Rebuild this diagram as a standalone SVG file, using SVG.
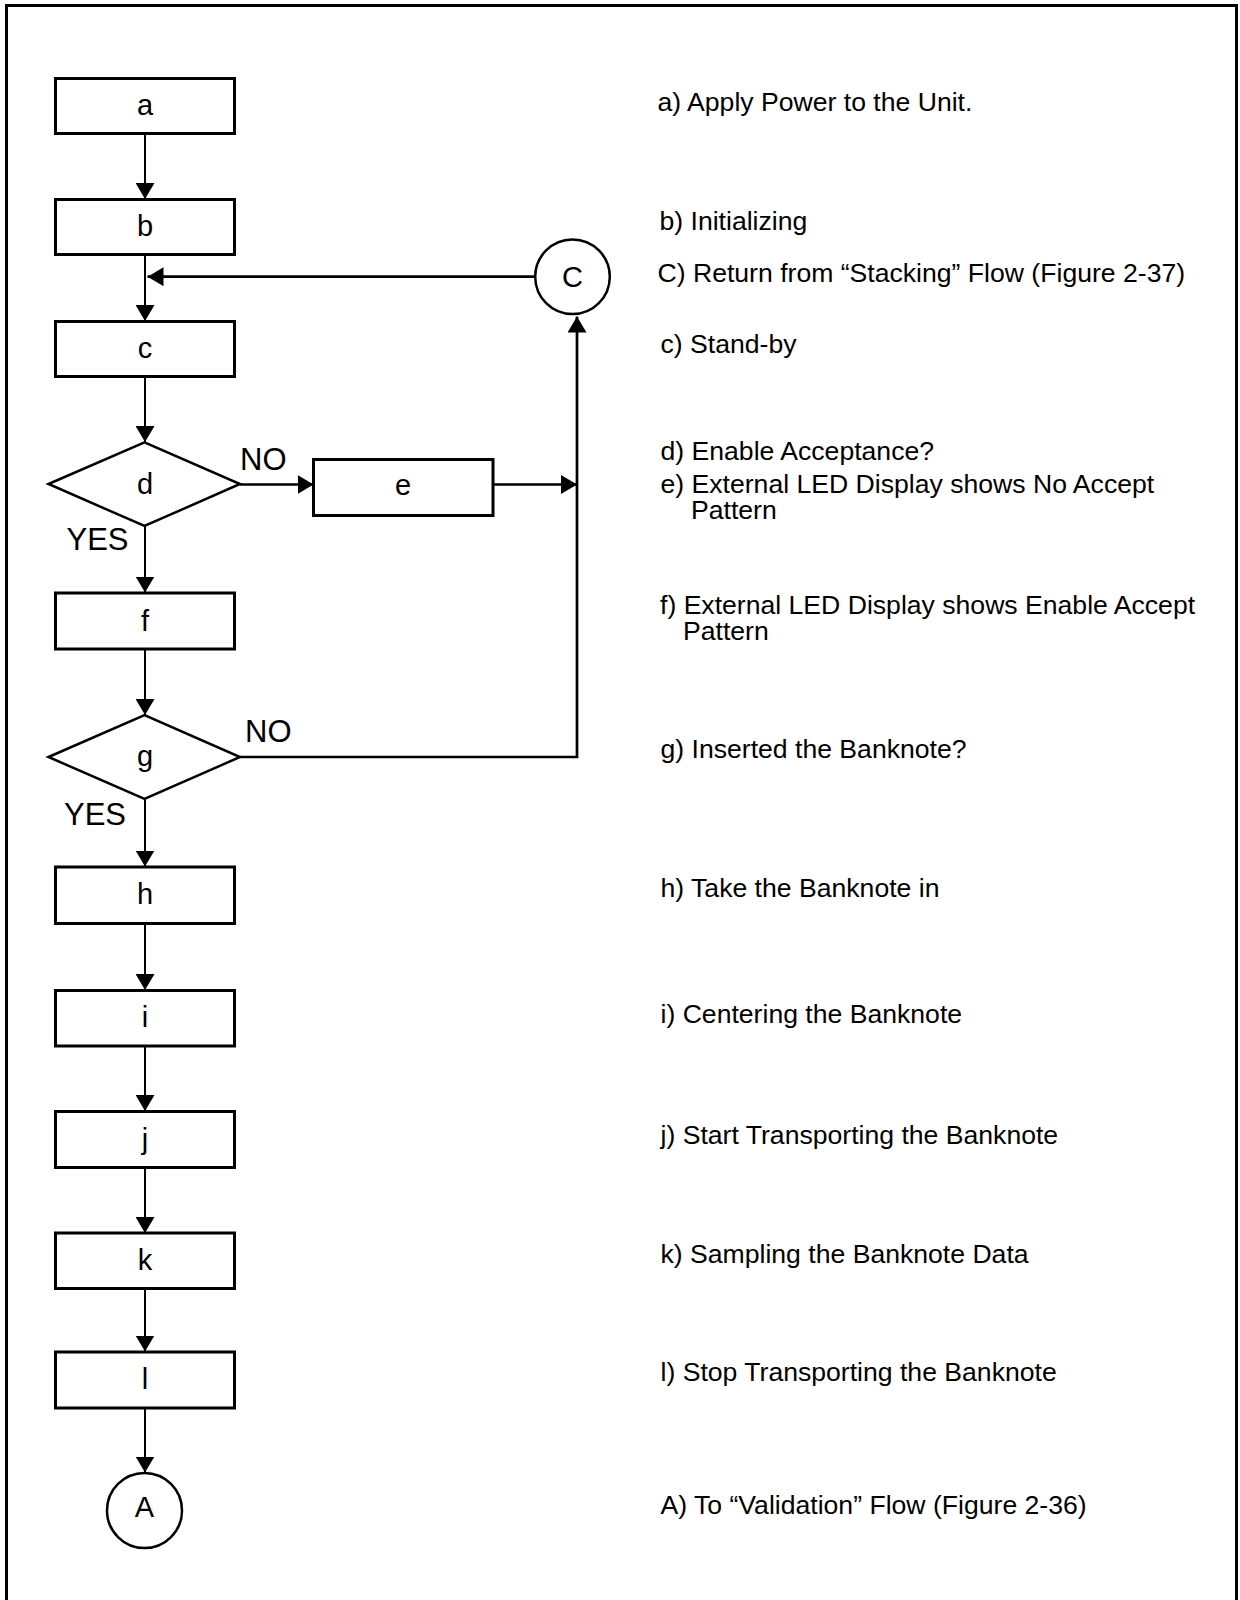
<svg xmlns="http://www.w3.org/2000/svg" width="1240" height="1600" viewBox="0 0 1240 1600">
<defs>
<style>
text{font-family:"Liberation Sans",Arial,Helvetica,sans-serif;fill:#000}
.box{fill:#fff;stroke:#000;stroke-width:3}
.dia{fill:#fff;stroke:#000;stroke-width:2.5}
.circ{fill:#fff;stroke:#000;stroke-width:2.5}
.lbl{font-size:29px;text-anchor:middle}
.yn{font-size:31px}
.desc{font-size:26.6px}
.flow{fill:none;stroke:#000;stroke-width:2;marker-end:url(#arr)}
.loopa{fill:none;stroke:#000;stroke-width:2.7;marker-end:url(#arr)}
</style>
<marker id="arr" viewBox="0 0 16 19" refX="16" refY="9.5" markerWidth="16" markerHeight="19" markerUnits="userSpaceOnUse" orient="auto">
<path d="M0,0 L16,9.5 L0,19 Z" fill="#000"/>
</marker>
</defs>
<rect x="0" y="0" width="1240" height="1600" fill="#fff"/>
<rect x="6.5" y="5.5" width="1230" height="1640" fill="none" stroke="#000" stroke-width="3"/>

<g id="connectors">
<path class="flow" d="M145,133.5 L145,199"/>
<path class="flow" d="M145,254.5 L145,321"/>
<path class="flow" d="M145,376.5 L145,442"/>
<path class="flow" d="M145,526 L145,592.5"/>
<path class="flow" d="M145,649 L145,715"/>
<path class="flow" d="M145,799 L145,866.5"/>
<path class="flow" d="M145,923.5 L145,990"/>
<path class="flow" d="M145,1046 L145,1111"/>
<path class="flow" d="M145,1167.5 L145,1233"/>
<path class="flow" d="M145,1288.5 L145,1351.5"/>
<path class="flow" d="M145,1408 L145,1472.5"/>
<path class="loopa" d="M535,276.7 L147.5,276.7"/>
<path class="loopa" d="M240,484.5 L313.5,484.5"/>
<path class="loopa" d="M493,484.5 L577,484.5"/>
<path class="loopa" d="M240,757 L577,757 L577,316.5"/>
</g>

<g id="node-a"><rect class="box" x="55.5" y="78.5" width="179" height="55"/><text class="lbl" x="145" y="114.5">a</text></g>
<g id="node-b"><rect class="box" x="55.5" y="199.5" width="179" height="55"/><text class="lbl" x="145" y="235.5">b</text></g>
<g id="node-C"><circle class="circ" cx="572.5" cy="276.8" r="37.3"/><text class="lbl" x="572.5" y="286.5">C</text></g>
<g id="node-c"><rect class="box" x="55.5" y="321.5" width="179" height="55"/><text class="lbl" x="145" y="357.5">c</text></g>
<g id="node-d"><polygon class="dia" points="48.5,484 144.5,442.3 240,484 144.5,526"/><text class="lbl" x="145" y="494">d</text></g>
<g id="node-e"><rect class="box" x="313.5" y="459.5" width="179.5" height="56"/><text class="lbl" x="403" y="495">e</text></g>
<g id="node-f"><rect class="box" x="55.5" y="593" width="179" height="56"/><text class="lbl" x="145" y="631">f</text></g>
<g id="node-g"><polygon class="dia" points="48.5,757 144.5,715 240,757 144.5,799"/><text class="lbl" x="145" y="765.5">g</text></g>
<g id="node-h"><rect class="box" x="55.5" y="867" width="179" height="56.5"/><text class="lbl" x="145" y="904">h</text></g>
<g id="node-i"><rect class="box" x="55.5" y="990.5" width="179" height="55.5"/><text class="lbl" x="145" y="1027">i</text></g>
<g id="node-j"><rect class="box" x="55.5" y="1111.5" width="179" height="56"/><text class="lbl" x="145" y="1148.5">j</text></g>
<g id="node-k"><rect class="box" x="55.5" y="1233" width="179" height="55.5"/><text class="lbl" x="145" y="1270">k</text></g>
<g id="node-l"><rect class="box" x="55.5" y="1352" width="179" height="56"/><text class="lbl" x="145" y="1389">l</text></g>
<g id="node-A"><circle class="circ" cx="144.5" cy="1510.5" r="37.5"/><text class="lbl" x="144.5" y="1517">A</text></g>

<g id="branch-labels">
<text class="yn" x="240" y="470">NO</text>
<text class="yn" x="66.5" y="550">YES</text>
<text class="yn" x="245" y="741.5">NO</text>
<text class="yn" x="64" y="825">YES</text>
</g>

<g id="descriptions">
<text class="desc" x="657.5" y="111">a) Apply Power to the Unit.</text>
<text class="desc" x="659.5" y="229.5">b) Initializing</text>
<text class="desc" x="657.5" y="281.5">C) Return from “Stacking” Flow (Figure 2-37)</text>
<text class="desc" x="660.5" y="353">c) Stand-by</text>
<text class="desc" x="660.5" y="460">d) Enable Acceptance?</text>
<text class="desc" x="660.5" y="493">e) External LED Display shows No Accept</text>
<text class="desc" x="691" y="519">Pattern</text>
<text class="desc" x="660" y="614">f) External LED Display shows Enable Accept</text>
<text class="desc" x="683" y="640">Pattern</text>
<text class="desc" x="660.5" y="758">g) Inserted the Banknote?</text>
<text class="desc" x="660.5" y="897">h) Take the Banknote in</text>
<text class="desc" x="660.5" y="1022.5">i) Centering the Banknote</text>
<text class="desc" x="660.5" y="1144">j) Start Transporting the Banknote</text>
<text class="desc" x="660.5" y="1263">k) Sampling the Banknote Data</text>
<text class="desc" x="660.5" y="1381">l) Stop Transporting the Banknote</text>
<text class="desc" x="660.5" y="1513.5">A) To “Validation” Flow (Figure 2-36)</text>
</g>
</svg>
